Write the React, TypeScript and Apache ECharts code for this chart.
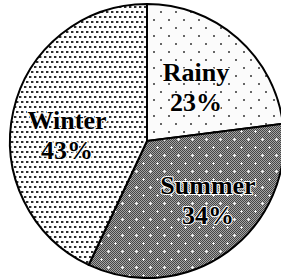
import React, { useEffect, useRef } from "react";
import * as echarts from "echarts";

const categories = ["Rainy", "Summer", "Winter"];
const values = [23, 34, 43];
const labelCenters = [
  [196, 87],
  [208, 200],
  [67, 135],
];

type Tile = { url: string; w: number; h: number };

function makeTile(w: number, h: number, draw: (ctx: CanvasRenderingContext2D) => void): Tile {
  const c = document.createElement("canvas");
  c.width = w;
  c.height = h;
  const ctx = c.getContext("2d")!;
  draw(ctx);
  return { url: c.toDataURL(), w, h };
}

function rainyTile(): Tile {
  return makeTile(15, 16, (ctx) => {
    ctx.fillStyle = "#fbfbfb";
    ctx.fillRect(0, 0, 15, 16);
    ctx.fillStyle = "#666";
    ctx.fillRect(3, 3, 2, 2);
    ctx.fillRect(10, 11, 2, 2);
  });
}

function summerTile(): Tile {
  return makeTile(14, 16, (ctx) => {
    for (let y = 0; y < 16; y++) {
      for (let x = 0; x < 14; x++) {
        ctx.fillStyle = (x + y) % 2 === 0 ? "#454545" : "#a4a4a4";
        ctx.fillRect(x, y, 1, 1);
      }
    }
    const plus = (cx: number, cy: number) => {
      ctx.fillStyle = "#ffffff";
      ctx.fillRect(cx, cy, 1, 1);
      ctx.fillStyle = "#e8e8e8";
      ctx.fillRect(cx - 1, cy, 1, 1);
      ctx.fillRect(cx + 1, cy, 1, 1);
      ctx.fillRect(cx, cy - 1, 1, 1);
      ctx.fillRect(cx, cy + 1, 1, 1);
    };
    plus(3, 3);
    plus(10, 11);
  });
}

function winterTile(): Tile {
  return makeTile(5, 10, (ctx) => {
    ctx.fillStyle = "#ffffff";
    ctx.fillRect(0, 0, 5, 10);
    ctx.fillStyle = "#2e2e2e";
    ctx.fillRect(1, 1, 2, 2);
    ctx.fillRect(4, 6, 1, 2);
    ctx.fillRect(0, 6, 1, 2);
    ctx.fillStyle = "#aaaaaa";
    ctx.fillRect(3, 1, 1, 2);
    ctx.fillRect(1, 6, 1, 2);
  });
}

export default function App() {
  const ref = useRef<HTMLDivElement>(null);
  useEffect(() => {
    document.body.style.margin = "0";
    const chart = echarts.init(ref.current!, null, { renderer: "svg" });
    const tiles = [rainyTile(), summerTile(), winterTile()];
    const data = categories.map((name, i) => ({
      name,
      value: values[i],
      itemStyle: {
        color: {
          image: tiles[i].url,
          repeat: "repeat",
          imageWidth: tiles[i].w,
          imageHeight: tiles[i].h,
        } as any,
      },
    }));
    chart.setOption({
      animation: false,
      series: [
        {
          type: "pie",
          center: [147, 141],
          radius: 137,
          startAngle: 90,
          clockwise: true,
          data,
          itemStyle: { borderColor: "#000", borderWidth: 2 },
          label: {
            show: true,
            position: "inside",
            formatter: "{b}\n{c}%",
            fontFamily: "'Liberation Serif', 'Times New Roman', serif",
            fontWeight: "bold",
            fontSize: 26,
            lineHeight: 30,
            color: "#000",
            textBorderColor: "#fff",
            textBorderWidth: 2,
            align: "center",
          },
          labelLine: { show: false },
          labelLayout: (params: any) => {
            const c = labelCenters[params.dataIndex];
            return { x: c[0], y: c[1], align: "center", verticalAlign: "middle" };
          },
          emphasis: { disabled: true },
        },
      ],
    });
    return () => chart.dispose();
  }, []);
  return <div ref={ref} style={{ width: 281, height: 279 }} />;
}
